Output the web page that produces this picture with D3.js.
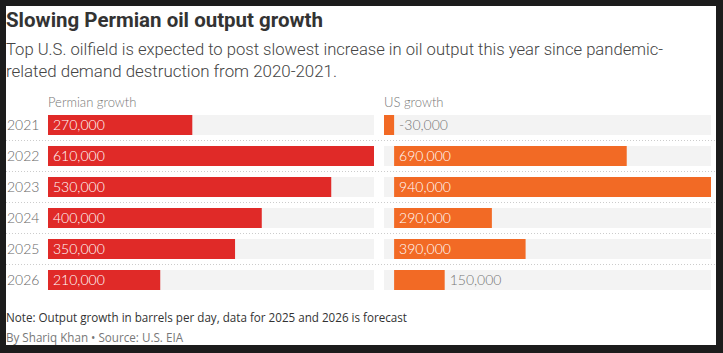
<html>
<head><meta charset="utf-8"></head>
<script src="https://cdn.jsdelivr.net/npm/d3@7"></script>
<body style="margin:0;background:#1c1c1c">
<div id="vis"></div>
<script>
// data
const years = ['2021', '2022', '2023', '2024', '2025', '2026'];
const permian = [270000, 610000, 530000, 400000, 350000, 210000];
const us = [-30000, 690000, 940000, 290000, 390000, 150000];

const W = 723, H = 353;
const svg = d3.select('#vis').append('svg').attr('width', W).attr('height', H);

svg.append('rect').attr('x', 6).attr('y', 6).attr('width', 710).attr('height', 339).attr('fill', '#fff');

const fmt = d => d3.format(',')(d).replace('\u2212', '-');
const font = 'Roboto, sans-serif';

svg.append('text').attr('x', 6).attr('y', 27)
    .attr('font-family', font).attr('font-weight', 700).attr('font-size', 20)
    .attr('textLength', 317).attr('lengthAdjust', 'spacingAndGlyphs')
    .attr('fill', '#333').text('Slowing Permian oil output growth');

const sub = ['Top U.S. oilfield is expected to post slowest increase in oil output this year since pandemic-',
    'related demand destruction from 2020-2021.'];
const subLen = [657, 331];
svg.selectAll('.sub').data(sub).enter().append('text')
    .attr('x', 6).attr('y', (d, i) => 55 + i * 22)
    .attr('font-family', font).attr('font-weight', 300).attr('font-size', 17)
    .attr('textLength', (d, i) => subLen[i]).attr('lengthAdjust', 'spacingAndGlyphs')
    .attr('fill', '#444').text(d => d);

const y = d3.scaleBand().domain(years).range([115, 115 + 31 * 6 - 11]).paddingInner(11 / 31).paddingOuter(0);

// row separators
svg.selectAll('.sep').data(years.slice(1)).enter().append('line')
    .attr('x1', 6).attr('x2', 716)
    .attr('y1', d => y(d) - 5.5).attr('y2', d => y(d) - 5.5)
    .attr('stroke', '#ccc').attr('stroke-dasharray', '1,2');

svg.selectAll('.yr').data(years).enter().append('text')
    .attr('x', 7).attr('y', d => y(d) + y.bandwidth() / 2 + 5)
    .attr('font-family', 'Lato, sans-serif').attr('font-weight', 300).attr('font-size', 14)
    .attr('fill', '#666').text(d => d);

function panel(values, x0, x1, domain, color, title) {
    const x = d3.scaleLinear().domain(domain).range([x0, x1]);
    const g = svg.append('g');
    g.append('text').attr('x', x0).attr('y', 107)
        .attr('font-family', 'Lato, sans-serif').attr('font-weight', 300).attr('font-size', 13)
        .attr('fill', '#777').text(title);
    g.selectAll('.bg').data(years).enter().append('rect')
        .attr('x', x0).attr('width', x1 - x0)
        .attr('y', d => y(d)).attr('height', y.bandwidth())
        .attr('fill', '#f3f3f3');
    g.selectAll('.bar').data(values).enter().append('rect')
        .attr('x', d => x(Math.min(0, d)))
        .attr('width', d => Math.abs(x(d) - x(0)))
        .attr('y', (d, i) => y(years[i])).attr('height', y.bandwidth())
        .attr('fill', color);
    g.selectAll('.lbl').data(values).enter().append('text')
        .attr('x', d => {
            const inside = Math.abs(x(d) - x(0)) > 80;
            return inside ? x(0) + 5 : x(Math.max(0, d)) + 5;
        })
        .attr('y', (d, i) => y(years[i]) + y.bandwidth() / 2 + 5)
        .attr('font-family', 'Lato, sans-serif').attr('font-weight', 300).attr('font-size', 14)
        .attr('fill', d => Math.abs(x(d) - x(0)) > 80 ? '#fff' : '#777')
        .text(d => fmt(d));
}

panel(permian, 48, 374, [0, 610000], '#e02a28', 'Permian growth');
panel(us, 384, 711, [-30000, 940000], '#f26a25', 'US growth');

svg.append('text').attr('x', 6).attr('y', 322)
    .attr('font-family', 'Open Sans, sans-serif').attr('font-size', 12)
    .attr('textLength', 401).attr('lengthAdjust', 'spacingAndGlyphs')
    .attr('fill', '#333').text('Note: Output growth in barrels per day, data for 2025 and 2026 is forecast');
svg.append('text').attr('x', 6).attr('y', 342)
    .attr('font-family', 'Open Sans, sans-serif').attr('font-size', 12)
    .attr('textLength', 177).attr('lengthAdjust', 'spacingAndGlyphs')
    .attr('fill', '#777').text('By Shariq Khan \u2022 Source: U.S. EIA');
</script>
</body>
</html>
